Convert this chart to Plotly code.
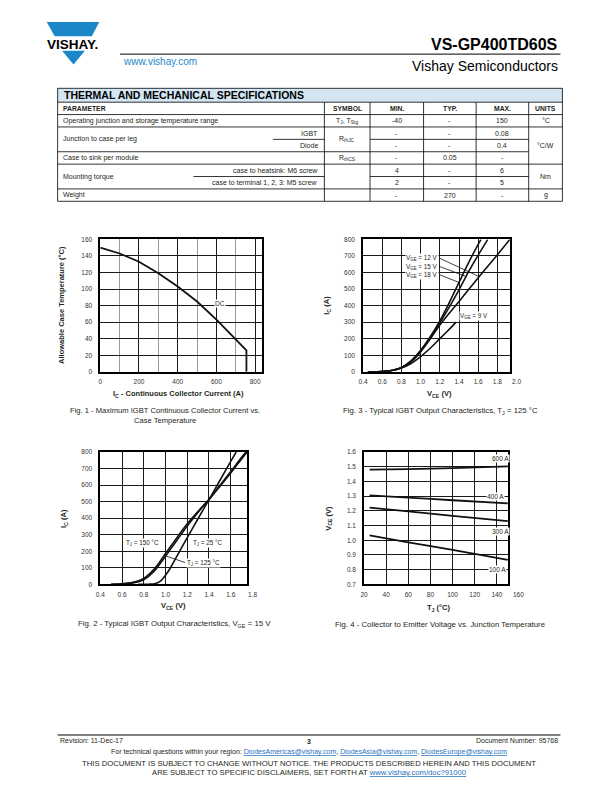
import plotly.graph_objects as go

# the page body keeps its default 8px margin, so the figure is drawn 8px in from the window
PAGE_W, PAGE_H, OFF = 612, 792, 8
W, H = PAGE_W - OFF, PAGE_H - OFF
FONT = "Liberation Sans"

# ---------------- data ----------------
# Fig. 1 - max continuous collector current vs case temperature
fig1_ic = [0, 100, 200, 300, 400, 500, 600, 700, 755, 755]
fig1_tc = [150, 143, 133, 119, 103, 85, 63, 39, 26, 0]

# Fig. 2 - output characteristics, VGE = 15 V
fig2_vce_25 = [0.75, 0.85, 0.9, 0.95, 1.0, 1.05, 1.1, 1.2, 1.3, 1.4, 1.5, 1.6, 1.65]
fig2_ic_25 = [0, 1, 4, 18, 55, 105, 165, 283, 398, 512, 628, 743, 800]
fig2_vce_125 = [0.5, 0.6, 0.7, 0.8, 0.9, 1.0, 1.1, 1.2, 1.3, 1.4, 1.5, 1.6, 1.7, 1.74]
fig2_ic_125 = [0, 2, 9, 28, 82, 170, 262, 352, 436, 514, 598, 682, 768, 800]
fig2_vce_150 = [0.5, 0.6, 0.7, 0.8, 0.9, 1.0, 1.1, 1.2, 1.3, 1.4, 1.5, 1.6, 1.7, 1.75]
fig2_ic_150 = [0, 3, 12, 36, 95, 186, 278, 366, 442, 512, 592, 674, 758, 800]

# Fig. 3 - output characteristics, TJ = 125 C
fig3_vce_18 = [0.45, 0.6, 0.7, 0.8, 0.9, 1.0, 1.1, 1.2, 1.3, 1.4, 1.5, 1.6, 1.63]
fig3_ic_18 = [0, 2, 8, 26, 66, 130, 212, 308, 420, 540, 660, 770, 800]
fig3_vce_15 = [0.45, 0.6, 0.7, 0.8, 0.9, 1.0, 1.1, 1.2, 1.3, 1.4, 1.5, 1.6, 1.7]
fig3_ic_15 = [0, 2, 8, 25, 64, 126, 206, 296, 392, 495, 605, 705, 800]
fig3_vce_12 = [0.45, 0.6, 0.7, 0.8, 0.9, 1.0, 1.1, 1.2, 1.3, 1.4, 1.5, 1.6, 1.7, 1.8, 1.93]
fig3_ic_12 = [0, 2, 8, 24, 60, 120, 198, 282, 355, 425, 497, 568, 638, 708, 800]
fig3_vce_9 = [0.45, 0.6, 0.7, 0.8, 0.9, 1.0, 1.1, 1.2, 1.3, 1.37]
fig3_ic_9 = [0, 2, 8, 22, 50, 92, 142, 200, 258, 300]

# Fig. 4 - VCE vs junction temperature
fig4_tj = [25, 60, 100, 150]
fig4_600a = [1.481, 1.484, 1.490, 1.503]
fig4_400a = [1.305, 1.290, 1.272, 1.251]
fig4_300a = [1.222, 1.196, 1.166, 1.130]
fig4_100a = [1.033, 0.986, 0.934, 0.866]

# axis ranges (the frames stop short of the last printed tick)
fig1_xrange, fig1_yrange = [0, 835], [0, 160]
fig3_xrange, fig3_yrange = [0.4, 1.93], [0, 800]
fig2_xrange, fig2_yrange = [0.4, 1.75], [0, 800]
fig4_xrange, fig4_yrange = [20, 150], [0.7, 1.6]

# Table
table_title = "THERMAL AND MECHANICAL SPECIFICATIONS"
table_head = ["PARAMETER", "SYMBOL", "MIN.", "TYP.", "MAX.", "UNITS"]
row_params = ["Operating junction and storage temperature range", "Junction to case per leg",
              "Case to sink per module", "Mounting torque", "Weight"]
row_sub = ["", "IGBT", "Diode", "", "case to heatsink: M6 screw", "case to terminal 1, 2, 3: M5 screw", ""]
row_min = ["-40", "-", "-", "-", "4", "2", "-"]
row_typ = ["-", "-", "-", "0.05", "-", "-", "270"]
row_max = ["150", "0.08", "0.4", "-", "6", "5", "-"]
row_symbols = ["T<sub>J</sub>, T<sub>Stg</sub>", "R<sub>thJC</sub>", "R<sub>thCS</sub>"]
row_units = ["°C", "°C/W", "Nm", "g"]

# ---------------- helpers (page pixels -> paper) ----------------
def px(x):
    return (x - OFF) / W

def py(y):
    return 1 - (y - OFF) / H

annotations = []
shapes = []

def txt(x, y, s, size=7, anchor="center", bold=False, color="#231f20", family=FONT,
        xref="paper", yref="paper", bg=None, angle=0):
    if bold:
        s = "<b>" + s + "</b>"
    a = dict(x=px(x) if xref == "paper" else x, y=py(y) if yref == "paper" else y,
             xref=xref, yref=yref, text=s, showarrow=False, xanchor=anchor, yanchor="middle",
             font=dict(family=family, size=size, color=color), textangle=angle)
    if bg:
        a.update(bgcolor=bg, borderpad=0)
    annotations.append(a)

def hline(x0, x1, y, w=0.8, color="black"):
    shapes.append(dict(type="line", xref="paper", yref="paper", x0=px(x0), x1=px(x1),
                       y0=py(y), y1=py(y), line=dict(color=color, width=w)))

def vline(x, y0, y1, w=0.8, color="black"):
    shapes.append(dict(type="line", xref="paper", yref="paper", x0=px(x), x1=px(x),
                       y0=py(y0), y1=py(y1), line=dict(color=color, width=w)))

def poly(points, color):
    d = "M " + " L ".join("{} {}".format(px(a), py(b)) for a, b in points) + " Z"
    shapes.append(dict(type="path", xref="paper", yref="paper", path=d,
                       fillcolor=color, line=dict(width=0)))

def end_tick(value, rng, ax, y, label):
    # tick label printed past the end of the frame, placed on the axis' own domain scale
    frac = (value - rng[0]) / (rng[1] - rng[0])
    annotations.append(dict(x=frac, y=py(y), xref=ax + " domain", yref="paper", text=label,
                            showarrow=False, xanchor="center", yanchor="middle",
                            font=dict(family=FONT, size=6.5, color="#333")))

fig = go.Figure()

def curve(x, y, ax, width=1.6, smooth=True):
    fig.add_trace(go.Scatter(x=x, y=y, mode="lines", xaxis="x" + ax, yaxis="y" + ax,
                             line=dict(color="#111", width=width,
                                       shape="spline" if smooth else "linear",
                                       smoothing=0.6),
                             showlegend=False, hoverinfo="skip"))

# ---------------- header ----------------
VBLUE = "#1b87c9"
poly([(42, 18), (95, 18), (87.5, 32.5), (50, 32.5)], VBLUE)
poly([(57.5, 47), (80.5, 47), (69, 61)], VBLUE)
txt(68.5, 40.5, "VISHAY.", size=13.5, bold=True, color="black")
txt(560, 41, "VS-GP400TD60S", size=16, anchor="right", bold=True, color="black")
hline(116, 560, 50.5, w=1)
txt(117, 58, "www.vishay.com", size=10, anchor="left", color=VBLUE)
txt(560, 62, "Vishay Semiconductors", size=14, anchor="right", color="black")

# ---------------- table ----------------
cx = [53, 322, 368, 422, 475, 528, 562]
ry = [85, 99, 111.5, 124, 136.5, 149, 161.5, 174, 186.5, 199]
shapes.append(dict(type="rect", xref="paper", yref="paper", x0=px(cx[0]), x1=px(cx[-1]),
                   y0=py(ry[1]), y1=py(ry[0]), fillcolor="#d3e5f3", line=dict(width=0)))
hline(cx[0], cx[-1], ry[0])
hline(cx[0], cx[-1], ry[1])
hline(cx[0], cx[-1], ry[2])
hline(cx[0], cx[-1], ry[3])
hline(270, cx[1], ry[4])
hline(cx[2], cx[5], ry[4])
hline(cx[0], cx[5], ry[5])
hline(cx[0], cx[-1], ry[6])
hline(190, cx[1], ry[7])
hline(cx[2], cx[5], ry[7])
hline(cx[0], cx[-1], ry[8])
hline(cx[0], cx[-1], ry[9])
vline(cx[0], ry[0], ry[9])
vline(cx[-1], ry[0], ry[9])
for c in cx[1:-1]:
    vline(c, ry[1], ry[9])

txt(57, 92, table_title, size=10.5, anchor="left", bold=True, color="black")
mid = lambda i: (ry[i] + ry[i + 1]) / 2
txt(56, mid(1), table_head[0], size=6.8, anchor="left", bold=True)
for i, h in enumerate(table_head[1:], start=1):
    txt((cx[i] + cx[i + 1]) / 2, mid(1), h, size=6.8, bold=True)

txt(56, mid(2), row_params[0], anchor="left")
txt(56, ry[4], row_params[1], anchor="left")
txt(56, mid(5), row_params[2], anchor="left")
txt(56, ry[7], row_params[3], anchor="left")
txt(56, mid(8), row_params[4], anchor="left")
for k, s in enumerate(row_sub):
    if s:
        txt(318, mid(k + 2), s, anchor="right")
for k in range(7):
    txt((cx[2] + cx[3]) / 2, mid(k + 2), row_min[k])
    txt((cx[3] + cx[4]) / 2, mid(k + 2), row_typ[k])
    txt((cx[4] + cx[5]) / 2, mid(k + 2), row_max[k])
txt(345, mid(2), row_symbols[0])
txt(345, ry[4], row_symbols[1])
txt(345, mid(5), row_symbols[2])
txt(545, mid(2), row_units[0])
txt(545, (ry[3] + ry[6]) / 2, row_units[1])
txt(545, ry[7], row_units[2])
txt(545, mid(8), row_units[3])

# ---------------- charts ----------------
curve(fig1_ic, fig1_tc, "", width=1.8, smooth=False)
for vx, vy in [(fig3_vce_18, fig3_ic_18), (fig3_vce_15, fig3_ic_15),
               (fig3_vce_12, fig3_ic_12), (fig3_vce_9, fig3_ic_9)]:
    curve(vx, vy, "2")
for vx, vy in [(fig2_vce_25, fig2_ic_25), (fig2_vce_125, fig2_ic_125),
               (fig2_vce_150, fig2_ic_150)]:
    curve(vx, vy, "3")
for vy in [fig4_600a, fig4_400a, fig4_300a, fig4_100a]:
    curve(fig4_tj, vy, "4", width=1.8)

tickfont = dict(family=FONT, size=6.5, color="#333")
base = dict(showline=True, mirror=True, linecolor="black", linewidth=1.6, showgrid=True,
            gridcolor="#1a1a1a", gridwidth=1, zeroline=False, ticks="outside", ticklen=3,
            tickcolor="rgba(0,0,0,0)", tickfont=tickfont)
ybase = dict(base, ticklen=5)

top = [py(371), py(237.5)]
bot = [py(585.5), py(452)]

layout_axes = dict(
    xaxis=dict(base, domain=[px(96), px(259)], range=fig1_xrange, anchor="y",
               tickmode="linear", tick0=0, dtick=200,
               minor=dict(dtick=100, showgrid=True, gridcolor="#9a9a9a", gridwidth=1)),
    yaxis=dict(ybase, domain=top, range=fig1_yrange, dtick=20, anchor="x"),
    xaxis2=dict(base, domain=[px(361), px(509)], range=fig3_xrange, anchor="y2",
                tickmode="linear", tick0=0.4, dtick=0.2, tickformat=".1f"),
    yaxis2=dict(ybase, domain=top, range=fig3_yrange, dtick=100, anchor="x2"),
    xaxis3=dict(base, domain=[px(96), px(244)], range=fig2_xrange, anchor="y3",
                tickmode="linear", tick0=0.4, dtick=0.2, tickformat=".1f"),
    yaxis3=dict(ybase, domain=bot, range=fig2_yrange, dtick=100, anchor="x3"),
    xaxis4=dict(base, domain=[px(362), px(507)], range=fig4_xrange, dtick=20, anchor="y4"),
    yaxis4=dict(ybase, domain=bot, range=fig4_yrange, dtick=0.1, tickformat=".1f", anchor="x4"),
)

# last tick labels that sit past the frame
end_tick(2.0, fig3_xrange, "x2", 380.5, "2.0")
end_tick(1.8, fig2_xrange, "x3", 595.5, "1.8")
end_tick(160, fig4_xrange, "x4", 595.5, "160")

# in-plot labels
txt(620, 83, "DC", size=6.5, xref="x", yref="y", bg="white")
fig.add_trace(go.Scatter(x=[662, 712], y=[80, 80], mode="lines", xaxis="x", yaxis="y",
                         line=dict(color="#111", width=1), showlegend=False, hoverinfo="skip"))

vge_labels = ["V<sub>GE</sub> = 12 V", "V<sub>GE</sub> = 15 V", "V<sub>GE</sub> = 18 V"]
vge_label_y = [686, 636, 586]
vge_leader_end = [(1.61, 575), (1.47, 577), (1.40, 540)]
for s, ly, (ex, ey) in zip(vge_labels, vge_label_y, vge_leader_end):
    txt(1.19, ly, s, size=6.3, anchor="right", xref="x2", yref="y2", bg="white")
    fig.add_trace(go.Scatter(x=[1.2, ex], y=[ly, ey], mode="lines", xaxis="x2", yaxis="y2",
                             line=dict(color="#111", width=0.8), showlegend=False,
                             hoverinfo="skip"))
txt(1.40, 340, "V<sub>GE</sub> = 9 V", size=6.3, anchor="left", xref="x2", yref="y2", bg="white")

txt(0.79, 248, "T<sub>J</sub> = 150 °C", size=6.3, xref="x3", yref="y3", bg="white")
txt(1.39, 248, "T<sub>J</sub> = 25 °C", size=6.3, xref="x3", yref="y3", bg="white")
txt(1.19, 128, "T<sub>J</sub> = 125 °C", size=6.3, anchor="left", xref="x3", yref="y3", bg="white")
fig.add_trace(go.Scatter(x=[1.0, 1.18], y=[172, 132], mode="lines", xaxis="x3", yaxis="y3",
                         line=dict(color="#111", width=0.8), showlegend=False, hoverinfo="skip"))

cur_labels = ["600 A", "400 A", "300 A", "100 A"]
cur_pos = [(143, 1.553), (139, 1.30), (143, 1.06), (141, 0.80)]
for s, (lx, ly) in zip(cur_labels, cur_pos):
    txt(lx, ly, s, size=6.5, xref="x4", yref="y4", bg="white")

# axis titles
txt(175, 393, "I<sub>C</sub> - Continuous Collector Current (A)", size=7.5, bold=True)
txt(57, 304, "Allowable Case Temperature (°C)", size=7.5, bold=True, angle=-90)
txt(438, 393, "V<sub>CE</sub> (V)", size=7.5, bold=True)
txt(325, 304, "I<sub>C</sub> (A)", size=7.5, bold=True, angle=-90)
txt(170, 607, "V<sub>CE</sub> (V)", size=7.5, bold=True)
txt(60, 519, "I<sub>C</sub> (A)", size=7.5, bold=True, angle=-90)
txt(438, 609, "T<sub>J</sub> (°C)", size=7.5, bold=True)
txt(327, 519, "V<sub>CE</sub> (V)", size=7.5, bold=True, angle=-90)

# captions
txt(161, 410, "Fig. 1 - Maximum IGBT Continuous Collector Current vs.", size=7.6)
txt(161, 420, "Case Temperature", size=7.6)
txt(439, 411, "Fig. 3 - Typical IGBT Output Characteristics, T<sub>J</sub> = 125 °C", size=7.8)
txt(171, 626, "Fig. 2 - Typical IGBT Output Characteristics, V<sub>GE</sub> = 15 V", size=7.8)
txt(439, 626, "Fig. 4 - Collector to Emitter Voltage vs. Junction Temperature", size=7.8)

# ---------------- footer ----------------
LINK = "#1f6fc0"
hline(53, 560, 737.5, w=1)
txt(53, 743, "Revision: 11-Dec-17", size=7, anchor="left")
txt(306, 744, "3", size=7, bold=True)
txt(560, 743, "Document Number: 95768", size=7, anchor="right")
txt(306, 755, "For technical questions within your region: "
    "<span style='color:%s'><u>DiodesAmericas@vishay.com</u></span>, "
    "<span style='color:%s'><u>DiodesAsia@vishay.com</u></span>, "
    "<span style='color:%s'><u>DiodesEurope@vishay.com</u></span>" % (LINK, LINK, LINK), size=7)
txt(306, 766, "THIS DOCUMENT IS SUBJECT TO CHANGE WITHOUT NOTICE. THE PRODUCTS DESCRIBED HEREIN AND THIS DOCUMENT",
    size=7.7)
txt(306, 775, "ARE SUBJECT TO SPECIFIC DISCLAIMERS, SET FORTH AT "
    "<span style='color:%s'><u>www.vishay.com/doc?91000</u></span>" % LINK, size=7.7)

fig.update_layout(width=W, height=H, margin=dict(l=0, r=0, t=0, b=0),
                  paper_bgcolor="white", plot_bgcolor="white", showlegend=False,
                  annotations=annotations, shapes=shapes, **layout_axes)

fig.write_html("out.html")
